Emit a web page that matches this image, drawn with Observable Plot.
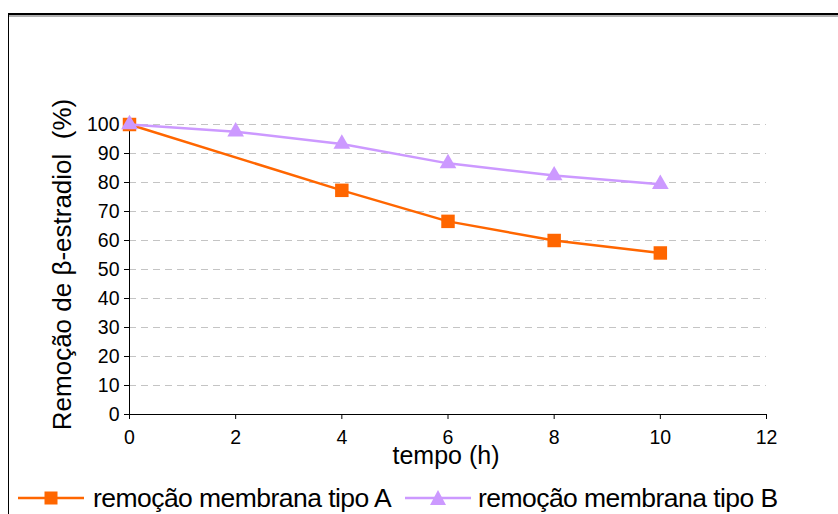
<!DOCTYPE html>
<html>
<head>
<meta charset="utf-8">
<script src="https://cdn.jsdelivr.net/npm/d3@7"></script>
<script src="https://cdn.jsdelivr.net/npm/@observablehq/plot@0.6"></script>
<style>
  html, body { margin: 0; padding: 0; background: #fff; }
  body { position: relative; width: 838px; height: 514px; overflow: hidden; font-family: "Liberation Sans", Arial, sans-serif; }
  #frame { position: absolute; left: 8px; top: 13px; width: 900px; height: 600px;
           border-top: 2px solid #000; border-left: 1px solid #000; box-shadow: inset 0 2px 0 #b0b0b0; z-index: 0; }
  #chart { position: absolute; left: 0; top: 0; z-index: 1; }
  #chart svg text { white-space: pre; }
  #legend { position: absolute; left: 0; top: 484px; width: 838px; height: 30px; z-index: 1; }
  .item { position: absolute; top: 0; display: flex; align-items: center; height: 28px; }
  .item span { font-size: 26.5px; letter-spacing: -0.55px; color: #000; margin-left: 9px; white-space: nowrap; }
</style>
</head>
<body>
<div id="frame"></div>
<div id="chart"></div>
<div id="legend"></div>
<script>
// Data
const tempoA = [0, 4, 6, 8, 10];
const remocaoA = [100, 77.3, 66.6, 60.0, 55.7];
const tempoB = [0, 2, 4, 6, 8, 10];
const remocaoB = [100, 97.5, 93.3, 86.6, 82.4, 79.4];
const xTicks = [0, 2, 4, 6, 8, 10, 12];
const yTicks = [0, 10, 20, 30, 40, 50, 60, 70, 80, 90, 100];
const gridTicks = [10, 20, 30, 40, 50, 60, 70, 80, 90, 100];
const seriesNames = ["remoção membrana tipo A", "remoção membrana tipo B"];
const seriesColors = ["#FF6600", "#CC99FF"];
const xLabel = "tempo (h)";
const yLabel = "Remoção de β-estradiol  (%)";

const dataA = tempoA.map((t, i) => ({tempo: t, remocao: remocaoA[i]}));
const dataB = tempoB.map((t, i) => ({tempo: t, remocao: remocaoB[i]}));

const plot = Plot.plot({
  width: 838,
  height: 470,
  marginTop: 124,
  marginBottom: 56,
  marginLeft: 129,
  marginRight: 72,
  x: {domain: [0, 12]},
  y: {domain: [0, 100]},
  style: {fontFamily: "'Liberation Sans', Arial, sans-serif", background: "transparent", overflow: "visible"},
  marks: [
    Plot.ruleY(gridTicks, {stroke: "#c4c4c4", strokeWidth: 1, strokeDasharray: "7,5"}),
    Plot.axisY(yTicks, {tickSize: 5, tickPadding: 5, fontSize: 19.5, label: null, stroke: "#000", strokeOpacity: 1, color: "#000", style: {letterSpacing: "-0.9px"}}),
    Plot.axisX(xTicks, {tickSize: 5, tickPadding: 11, fontSize: 19.5, label: null, stroke: "#000", strokeOpacity: 1, color: "#000", style: {letterSpacing: "-0.9px"}}),
    Plot.ruleX([0], {stroke: "#000", strokeWidth: 1}),
    Plot.ruleY([0], {stroke: "#000", strokeWidth: 1}),
    Plot.line(dataA, {x: "tempo", y: "remocao", stroke: seriesColors[0], strokeWidth: 2.5}),
    Plot.dot(dataA, {x: "tempo", y: "remocao", symbol: "square", r: 7.6, fill: seriesColors[0], stroke: "none"}),
    Plot.line(dataB, {x: "tempo", y: "remocao", stroke: seriesColors[1], strokeWidth: 2.5}),
    Plot.dot(dataB, {x: "tempo", y: "remocao", symbol: "triangle", r: 6.2, fill: seriesColors[1], stroke: "none"}),
    Plot.text([yLabel], {frameAnchor: "left", rotate: -90, dx: -67, dy: -5, fontSize: 26, textAnchor: "middle", lineAnchor: "middle", fill: "#000", style: {letterSpacing: "-0.65px"}}),
    Plot.text([xLabel], {frameAnchor: "bottom", dx: -2, dy: 41, fontSize: 25, textAnchor: "middle", lineAnchor: "middle", fill: "#000", style: {letterSpacing: "-0.5px"}})
  ]
});
document.getElementById("chart").appendChild(plot);

// Legend
const legend = document.getElementById("legend");
const legendPos = [{line: 18, text: 93}, {line: 405, text: 478}];
seriesNames.forEach((name, i) => {
  const item = document.createElement("div");
  item.className = "item";
  item.style.left = legendPos[i].line + "px";
  const w = 66;
  const marker = i === 0
    ? `<rect x="${w/2 - 6.5}" y="7.5" width="13" height="13" fill="${seriesColors[i]}"/>`
    : `<path d="M${w/2},6 L${w/2 + 8},21 L${w/2 - 8},21 Z" fill="${seriesColors[i]}"/>`;
  item.innerHTML = `<svg width="${w}" height="28" style="display:block"><line x1="0" x2="${w}" y1="14" y2="14" stroke="${seriesColors[i]}" stroke-width="2.5"/>${marker}</svg><span>${name}</span>`;
  item.querySelector("span").style.marginLeft = (legendPos[i].text - legendPos[i].line - w) + "px";
  legend.appendChild(item);
});
</script>
</body>
</html>
